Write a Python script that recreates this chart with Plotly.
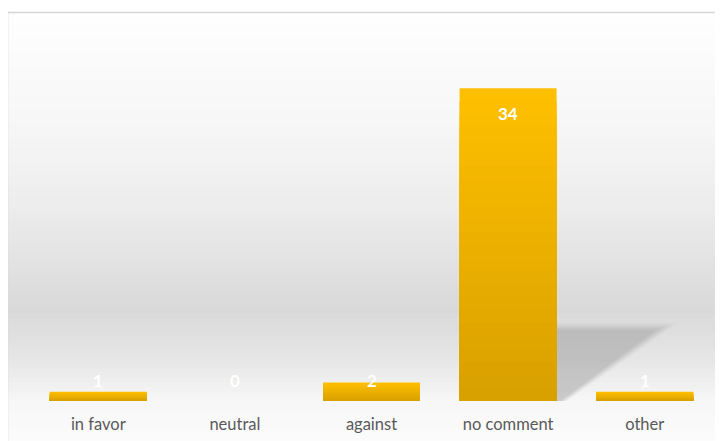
import plotly.graph_objects as go

categories = ["in favor", "neutral", "against", "no comment", "other"]
values = [1, 0, 2, 34, 1]

W, H = 723, 441
OFF = 8  # page body margin offset
# plot area in page pixels
PL, PR, PT, PB = 30, 713, 33, 401
ML, MT = PL - OFF, PT - OFF
MR = W - (PR - OFF)
MB = H - (PB - OFF)
Y_MAX = 40


def lerp(c1, c2, t):
    return tuple(round(a + (b - a) * t) for a, b in zip(c1, c2))


def hexrgb(h):
    h = h.lstrip("#")
    return tuple(int(h[i:i + 2], 16) for i in (0, 2, 4))


def rgbstr(c):
    return "rgb(%d,%d,%d)" % c


# background gradient stops (page pixel y, colour)
bg_stops = [(13, "#fefefe"), (120, "#f7f7f7"), (210, "#ececec"),
            (310, "#d9d9d9"), (360, "#e6e6e6"), (400, "#f6f6f6"), (450, "#fdfdfd")]


def bg_color(y):
    for (y0, c0), (y1, c1) in zip(bg_stops, bg_stops[1:]):
        if y0 <= y <= y1:
            return lerp(hexrgb(c0), hexrgb(c1), (y - y0) / (y1 - y0))
    return hexrgb(bg_stops[-1][1])


ph = PB - PT
pw = PR - PL


def py(ypx):
    return 1 - (ypx - PT) / ph


def px(xpx):
    return (xpx - PL) / pw


shapes = []
NS = 90
y_top, y_bot = 13, 450
for i in range(NS):
    a = y_top + (y_bot - y_top) * i / NS
    b = y_top + (y_bot - y_top) * (i + 1) / NS
    shapes.append(dict(type="rect", xref="paper", yref="paper",
                       x0=px(8), x1=px(740), y0=py(a), y1=py(b + 0.8),
                       fillcolor=rgbstr(bg_color((a + b) / 2)), line=dict(width=0),
                       layer="below"))
# chart border
shapes.append(dict(type="rect", xref="paper", yref="paper",
                   x0=px(7.5), x1=px(760), y0=py(12.5), y1=py(480),
                   line=dict(color="#d6d6d6", width=1.5), fillcolor="rgba(0,0,0,0)",
                   layer="below"))

# soft perspective shadow of the tallest bar
imax = values.index(max(values))
bw_half = 0.355
for op, grow in [(0.06, 0.12), (0.08, 0.08), (0.10, 0.04), (0.12, 0.0), (0.12, -0.04)]:
    x0 = imax + bw_half
    path = "M %f,%f L %f,%f L %f,%f L %f,%f Z" % (
        x0, 0.0,
        x0, 7.9 + grow * 5,
        imax + 1.12 + grow, 7.9 + grow * 5,
        x0 + 0.04 + grow * 0.3, 0.0)
    shapes.append(dict(type="path", xref="x", yref="y", path=path,
                       fillcolor="rgba(140,140,140,%.2f)" % op, line=dict(width=0),
                       layer="below"))

fig = go.Figure()
N = 24
top_c = hexrgb("#FFC000")
bot_c = hexrgb("#D8A000")
for k in range(N):
    frac = (N - k) / N
    col = lerp(bot_c, top_c, frac - 0.5 / N)
    fig.add_trace(go.Bar(
        x=categories,
        y=[v * frac for v in values],
        marker=dict(color=rgbstr(col), line=dict(width=0)),
        width=0.71,
        hoverinfo="skip",
        showlegend=False,
    ))

annotations = []
for c, v in zip(categories, values):
    big = v > 5
    annotations.append(dict(
        x=c, y=v if big else 0, yshift=-25 if big else 21,
        text=str(v), showarrow=False,
        font=dict(family="Lato, Open Sans, sans-serif", size=17, color="white", weight="bold"),
        xanchor="center", yanchor="middle"))

fig.update_layout(
    width=W, height=H,
    margin=dict(l=ML, r=MR, t=MT, b=MB),
    paper_bgcolor="white",
    plot_bgcolor="rgba(0,0,0,0)",
    barmode="overlay",
    showlegend=False,
    shapes=shapes,
    annotations=annotations,
    xaxis=dict(showgrid=False, showline=False, zeroline=False, ticks="",
               ticklabelstandoff=11,
               tickfont=dict(family="Lato, Open Sans, sans-serif", size=16.5, color="#595959"),
               range=[-0.5, 4.5]),
    yaxis=dict(visible=False, range=[0, Y_MAX], showgrid=False, zeroline=False),
)

fig.write_html("out.html")
